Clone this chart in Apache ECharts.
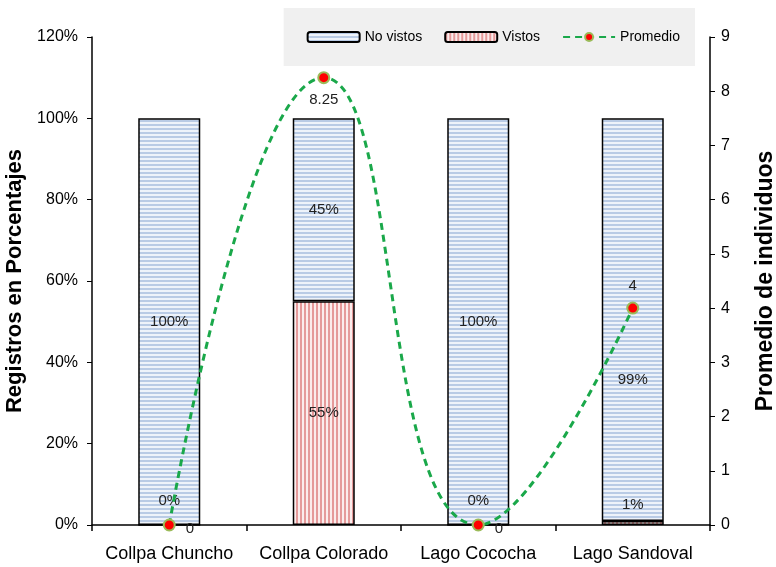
<!DOCTYPE html>
<html>
<head>
<meta charset="utf-8">
<script src="https://cdn.jsdelivr.net/npm/echarts@6/dist/echarts.min.js"></script>
<style>
  html, body { margin: 0; padding: 0; background: #fff; }
  #chart { width: 776px; height: 567px; }
</style>
</head>
<body>
<div id="chart"></div>
<script>
// datos del grafico
const categories = ['Collpa Chuncho', 'Collpa Colorado', 'Lago Cococha', 'Lago Sandoval']
const vistos = [0, 55, 0, 1]
const noVistos = [100, 45, 100, 99]
const promedio = [0, 8.25, 0, 4]
const leftTicks = [0, 120, 20]   // min, max, interval
const rightTicks = [0, 9, 1]

const FONT = 'Liberation Sans, Arial, sans-serif'

// patrones de relleno (rayas)
function stripes(horizontal, line, bg) {
  const c = document.createElement('canvas')
  c.width = 4
  c.height = 4
  const ctx = c.getContext('2d')
  ctx.fillStyle = bg
  ctx.fillRect(0, 0, 4, 4)
  ctx.fillStyle = line
  if (horizontal) {
    ctx.fillRect(0, 0, 4, 2)
  } else {
    ctx.fillRect(0, 0, 2, 4)
  }
  return c
}
const bluePattern = { image: stripes(true, '#b9cbe5', '#eef3fa'), repeat: 'repeat' }
const redPattern = { image: stripes(false, '#e59a9a', '#fbecec'), repeat: 'repeat' }

const chart = echarts.init(document.getElementById('chart'))

// etiquetas de vistos: las pequeñas van encima de la barra
const vistosData = vistos.map(function (v) {
  if (v <= 1) {
    return { value: v, label: { position: 'top', distance: v === 0 ? 16 : 9 } }
  }
  return v
})
const noVistosData = noVistos.map(function (v, i) {
  if (i === 3) return { value: v, label: { offset: [0, 60] } }
  return v
})
const lineData = promedio.map(function (v, i) {
  const pos = i === 1 ? 'bottom' : (i === 3 ? 'top' : 'right')
  const lbl = { position: pos, distance: pos === 'right' ? 10 : 8 }
  if (pos === 'right') lbl.offset = [0, 4]
  return { value: v, label: lbl }
})

chart.setOption({
  animation: false,
  textStyle: { fontFamily: FONT },
  legend: {
    right: 81,
    top: 8,
    padding: [22, 15, 22, 23],
    backgroundColor: '#f0f0f0',
    itemWidth: 52,
    itemHeight: 10,
    itemGap: 22,
    textStyle: { fontFamily: FONT, fontSize: 14, color: '#000' },
    data: ['No vistos', 'Vistos', 'Promedio']
  },
  grid: { left: 92, right: 66, top: 37, bottom: 42, containLabel: false, outerBoundsMode: 'none' },
  xAxis: {
    type: 'category',
    data: categories,
    axisLine: { lineStyle: { color: '#000', width: 1.5 } },
    axisTick: { show: true, length: 6, lineStyle: { color: '#000', width: 1.5 } },
    axisLabel: { color: '#000', fontSize: 18, margin: 20, interval: 0, fontFamily: FONT }
  },
  yAxis: [{
    type: 'value',
    min: leftTicks[0],
    max: leftTicks[1],
    interval: leftTicks[2],
    name: 'Registros en Porcentajes',
    nameLocation: 'middle',
    nameGap: 55,
    nameTextStyle: { fontSize: 22, fontWeight: 'bold', color: '#000', fontFamily: FONT },
    splitLine: { show: false },
    axisLine: { show: true, lineStyle: { color: '#000', width: 1.5 } },
    axisTick: { show: true, inside: false, length: 5, lineStyle: { color: '#000' } },
    axisLabel: { color: '#000', fontSize: 16, margin: 14, formatter: '{value}%', fontFamily: FONT }
  }, {
    type: 'value',
    min: rightTicks[0],
    max: rightTicks[1],
    interval: rightTicks[2],
    name: 'Promedio de individuos',
    nameLocation: 'middle',
    nameGap: 44,
    nameRotate: 90,
    nameTextStyle: { fontSize: 23, fontWeight: 'bold', color: '#000', fontFamily: FONT },
    splitLine: { show: false },
    axisLine: { show: true, lineStyle: { color: '#000', width: 1.5 } },
    axisTick: { show: true, length: 5, lineStyle: { color: '#000' } },
    axisLabel: { color: '#000', fontSize: 16, margin: 11, fontFamily: FONT }
  }],
  series: [{
    name: 'Vistos',
    type: 'bar',
    stack: 'total',
    barWidth: 62,
    data: vistosData,
    itemStyle: { color: redPattern, borderColor: '#000', borderWidth: 1.5 },
    label: {
      show: true,
      position: 'inside',
      formatter: '{c}%',
      color: '#222',
      fontSize: 15,
      fontFamily: FONT
    }
  }, {
    name: 'No vistos',
    type: 'bar',
    stack: 'total',
    barWidth: 62,
    data: noVistosData,
    itemStyle: { color: bluePattern, borderColor: '#000', borderWidth: 1.5 },
    label: {
      show: true,
      position: 'inside',
      formatter: '{c}%',
      color: '#222',
      fontSize: 15,
      fontFamily: FONT
    }
  }, {
    name: 'Promedio',
    type: 'line',
    yAxisIndex: 1,
    smooth: 0.5,
    data: lineData,
    z: 5,
    symbol: 'circle',
    symbolSize: 11,
    itemStyle: { color: '#ff0000', borderColor: '#9bbb59', borderWidth: 2 },
    lineStyle: { color: '#1aa84a', width: 3, type: [7, 5] },
    label: {
      show: true,
      color: '#222',
      fontSize: 15,
      fontFamily: FONT
    }
  }]
})
</script>
</body>
</html>
